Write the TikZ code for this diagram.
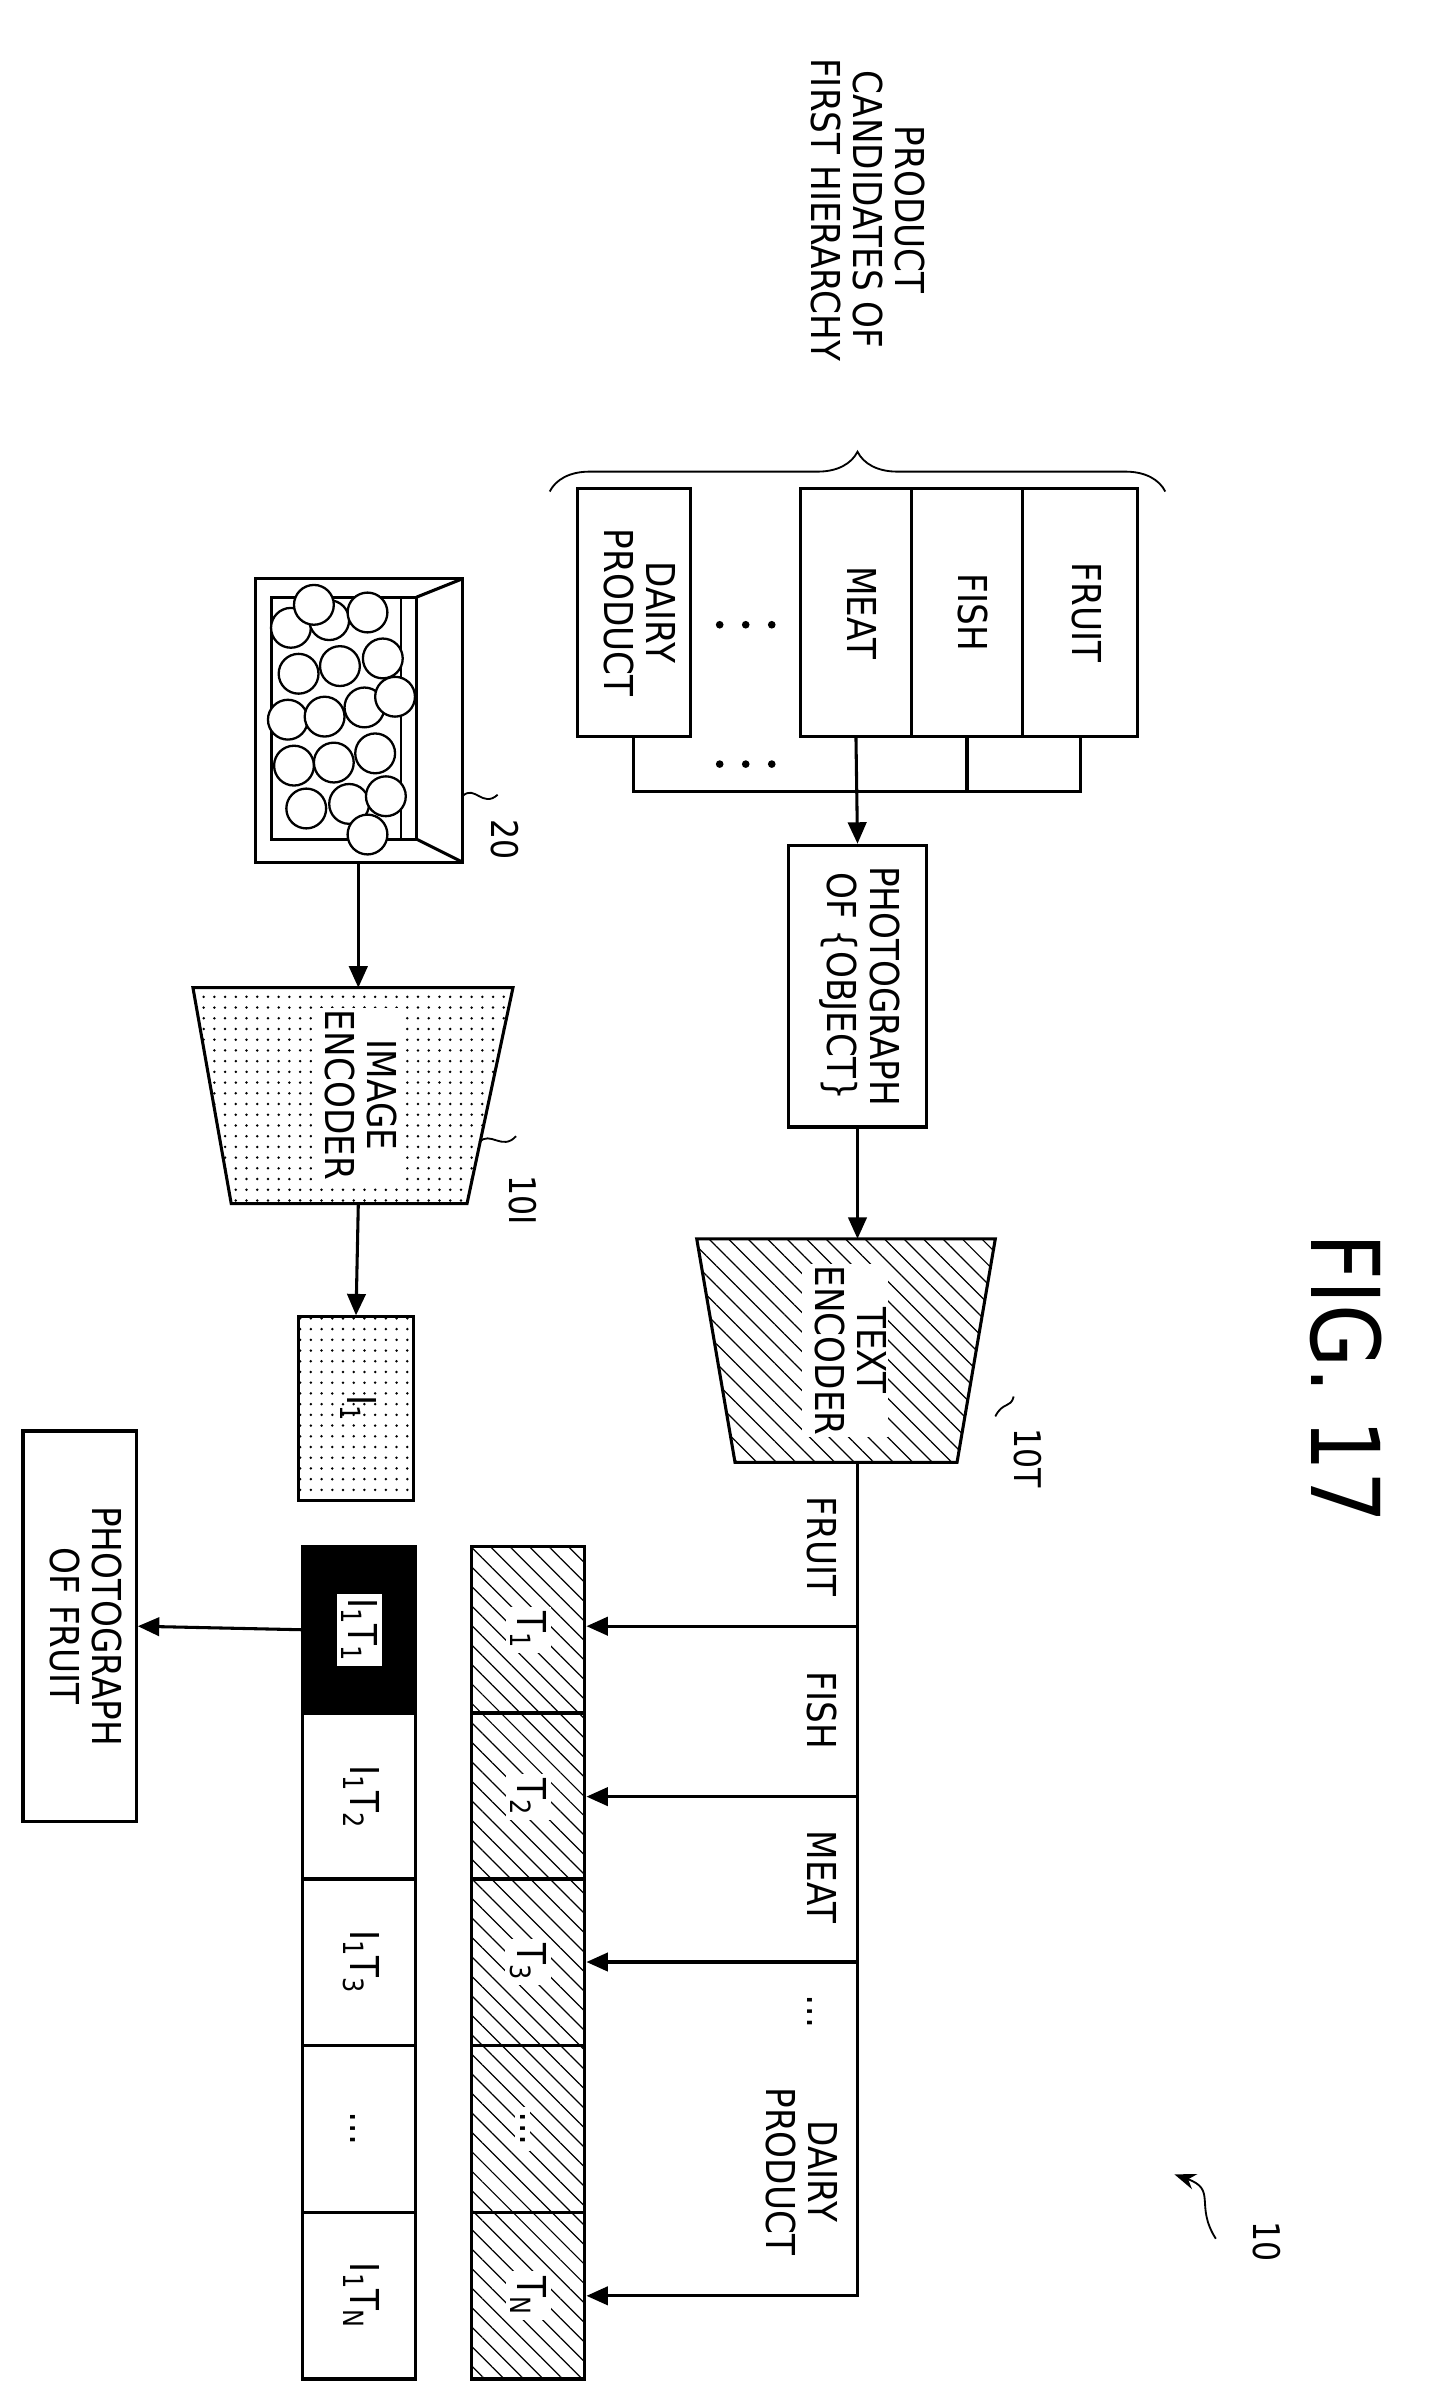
\documentclass[tikz,border=0pt]{standalone}
\usepackage{fontspec}
\setmainfont{DejaVu Sans}[FakeStretch=0.86]
\usetikzlibrary{arrows.meta,patterns.meta,decorations.pathreplacing}
\newcommand{\rt}[1]{\rotatebox[origin=c]{-90}{\begin{tabular}{@{}c@{}}#1\end{tabular}}}
\tikzset{
  box/.style={draw, line width=2pt, inner sep=0pt, font=\fontsize{26}{27}\selectfont},
  lbl/.style={inner sep=1pt, font=\fontsize{26}{27}\selectfont},
  ref/.style={inner sep=0pt, font=\fontsize{24}{26}\selectfont},
  hatch/.style={pattern={Lines[angle=-45,distance=9pt,line width=0.8pt]}},
  dotfill/.style={pattern={Dots[distance=7pt,radius=0.9pt]}},
  arr/.style={-{Triangle[length=14pt,width=12pt]}, line width=2pt}
}
\begin{document}
\begin{tikzpicture}[x=1pt, y=-1pt, line width=2pt]
    \useasboundingbox (0,0) rectangle (940,1568);

    % first hierarchy candidates
    \node[lbl] (title) at (563,137) {\rt{PRODUCT\\CANDIDATES OF\\FIRST HIERARCHY}};
    \draw[decorate, decoration={brace, amplitude=26pt}, line width=1.2pt] (359,321) -- (761,321);
    \node[box, minimum width=75pt, minimum height=162pt] (fruit) at (705.5,400) {\rt{FRUIT}};
    \node[box, minimum width=73pt, minimum height=162pt] (fish) at (631.5,400) {\rt{FISH}};
    \node[box, minimum width=73pt, minimum height=162pt] (meat) at (559,400) {\rt{MEAT}};
    \node[box, minimum width=74pt, minimum height=162pt] (dairy) at (414,400) {\rt{DAIRY\\PRODUCT}};
    \foreach \y in {408,499}
      \foreach \x in {470,487,504}
        \fill (\x,\y) circle (2.5pt);

    \coordinate (comb) at (560,517);
    \draw (dairy.south) |- (fruit.south |- comb) -- (fruit.south);
    \draw (fish.south) -- (fish.south |- comb);
    \node[box, minimum width=90pt, minimum height=184pt] (prompt) at (560,644) {\rt{PHOTOGRAPH\\OF \{OBJECT\}}};
    \draw[arr] (meat.south) -- (prompt.north);

    % text encoder
    \coordinate (tencin) at (560,809);
    \coordinate (tencout) at (560,955);
    \draw[hatch] (455,809) -- (650,809) -- (625,955) -- (480,955) -- cycle;
    \node[lbl, fill=white] (tenc) at (552,882) {\rt{TEXT\\ENCODER}};
    \draw[arr] (prompt.south) -- (tencin);
    \draw[line width=1.2pt] (650,925) .. controls (655,915) and (660,920) .. (662,912);
    \node[ref] (l10T) at (668,952) {\rt{10T}};

    % text features
    \foreach \i/\t/\y in {1/T\textsubscript{1}/1009, 2/T\textsubscript{2}/1118, 3/T\textsubscript{3}/1226, 4/\dots/1335, 5/T\textsubscript{N}/1444}
      \node[box, hatch, minimum width=74pt, minimum height=108.6pt, anchor=north] (t\i) at (345,\y) {\rt{\colorbox{white}{\t}}};
    \draw (tencout) -- (560,1062);
    \draw[arr] (560,1062) -- (t1.east |- 560,1062);
    \draw[arr] (560,1062) |- (t2.east);
    \draw[arr] (560,1171) |- (t3.east);
    \draw[arr] (560,1280) |- (t5.east);
    \node[lbl] (wfruit) at (533,1010) {\rt{FRUIT}};
    \node[lbl] (wfish) at (533,1117) {\rt{FISH}};
    \node[lbl] (wmeat) at (533,1226) {\rt{MEAT}};
    \node[lbl] (wdots) at (533,1314) {\rt{\dots}};
    \node[lbl] (wdairy) at (520,1418) {\rt{DAIRY\\PRODUCT}};

    % input image
    \draw (167,378) rectangle (302,563);
    \draw (177,390) rectangle (272,548);
    \draw (272,390) -- (302,378);
    \draw (272,548) -- (302,563);
    \draw[line width=1pt] (262,390) -- (262,548);
    \foreach \x/\y in {190/410,215/405,240/400,195/440,222/435,250/430,188/470,212/468,238/462,258/455,
                       192/500,218/498,245/492,200/528,228/525,252/520,240/545,205/395}
      \draw[line width=1.5pt, fill=white] (\x,\y) circle (13pt);
    \coordinate (photo) at (234,563);
    \draw[line width=1.2pt] (302,520) .. controls (310,512) and (315,528) .. (325,519);
    \node[ref] (l20) at (326,548) {\rt{20}};

    % image encoder
    \coordinate (iencin) at (234,645);
    \coordinate (iencout) at (234,786);
    \draw[dotfill] (126,645) -- (335,645) -- (305,786) -- (151,786) -- cycle;
    \node[lbl, fill=white] (ienc) at (232,715) {\rt{IMAGE\\ENCODER}};
    \draw[arr] (photo) -- (iencin);
    \draw[line width=1.2pt] (313,746) .. controls (320,738) and (328,752) .. (337,742);
    \node[ref] (l10I) at (338,784) {\rt{10I}};
    \node[box, dotfill, minimum width=75pt, minimum height=120pt] (i1) at (232.5,920) {\rt{I\textsubscript{1}}};
    \draw[arr] (iencout) -- (i1.north);

    % similarities
    \node[box, fill=black, minimum width=74pt, minimum height=108.6pt, anchor=north] (s1) at (234.5,1009) {\rt{\colorbox{white}{I\textsubscript{1}T\textsubscript{1}}}};
    \foreach \i/\t/\y in {2/I\textsubscript{1}T\textsubscript{2}/1118, 3/I\textsubscript{1}T\textsubscript{3}/1226, 4/\dots/1335, 5/I\textsubscript{1}T\textsubscript{N}/1444}
      \node[box, minimum width=74pt, minimum height=108.6pt, anchor=north] (s\i) at (234.5,\y) {\rt{\t}};
    \node[box, minimum width=74pt, minimum height=255pt] (result) at (52,1062) {\rt{PHOTOGRAPH\\OF FRUIT}};
    \draw[arr] (s1.west) -- (result.east);

    % figure label
    \node[font=\fontsize{62}{62}\selectfont] (fig) at (870,900) {\rt{FIG. 17}};
    \coordinate (tip10) at (767,1420);
    \draw[-{Stealth[length=14pt]}, line width=1.2pt] (794,1462) .. controls (780,1440) and (795,1430) .. (tip10);
    \node[ref] (l10) at (824,1464) {\rt{10}};
\end{tikzpicture}
\end{document}
